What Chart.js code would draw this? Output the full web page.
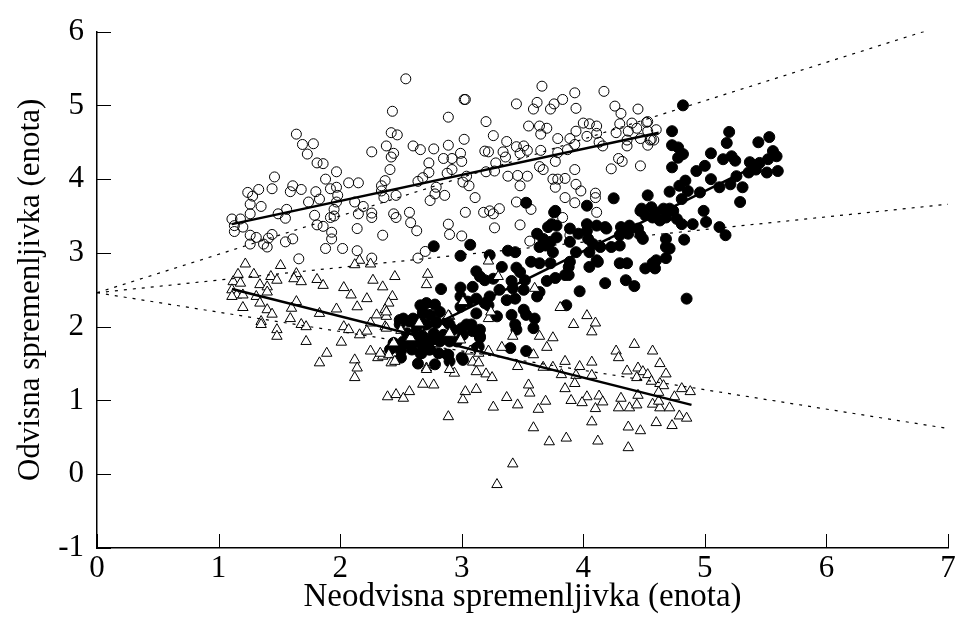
<!DOCTYPE html>
<html>
<head>
<meta charset="utf-8">
<script src="https://cdn.jsdelivr.net/npm/chart.js@4.4.1/dist/chart.umd.min.js"></script>
<style>
  html, body { margin: 0; padding: 0; background: #fff; }
  #wrap { width: 959px; height: 618px; }
</style>
</head>
<body>
<div id="wrap"><canvas id="chart"></canvas></div>
<script>
// open circles (group 1)
const openPts = [
  [2.54,5.36],[2.43,4.92],[2.89,4.84],[1.64,4.61],[2.42,4.63],[2.47,4.60],[1.69,4.47],[1.78,4.48],[1.73,4.34],[2.38,4.45],
  [2.44,4.35],[2.42,4.30],[2.26,4.37],[2.60,4.45],[2.66,4.40],[2.77,4.41],[2.85,4.28],[2.73,4.22],[1.81,4.22],[1.86,4.21],
  [2.41,4.13],[1.97,4.10],[1.46,4.03],[1.88,4.00],[2.73,4.09],[2.68,4.02],[2.64,3.97],[2.37,3.98],[2.07,3.95],[2.15,3.95],
  [1.61,3.91],[1.44,3.87],[1.33,3.86],[1.24,3.82],[1.28,3.77],[1.59,3.83],[1.68,3.86],[1.80,3.83],[1.92,3.87],[1.97,3.89],
  [2.34,3.91],[2.34,3.84],[2.36,3.75],[2.46,3.78],[2.79,3.89],[2.78,3.80],[2.86,3.78],[2.74,3.71],[1.98,3.78],[1.97,3.69],
  [1.83,3.73],[1.74,3.69],[2.12,3.69],[2.19,3.63],[1.26,3.66],[1.35,3.63],[1.56,3.59],[1.49,3.53],[1.55,3.47],[1.95,3.59],
  [1.95,3.50],[1.79,3.51],[1.92,3.48],[2.15,3.53],[2.26,3.54],[2.26,3.48],[2.44,3.53],[2.46,3.48],[2.57,3.55],[2.58,3.41],
  [2.63,3.30],[2.89,3.39],[2.90,3.25],[1.26,3.53],[1.11,3.46],[1.18,3.46],[1.13,3.37],[1.20,3.35],[1.13,3.29],[1.26,3.24],
  [1.31,3.21],[1.44,3.25],[1.41,3.20],[1.26,3.12],[1.37,3.12],[1.40,3.08],[1.55,3.15],[1.61,3.19],[1.81,3.38],[1.86,3.36],
  [1.93,3.28],[1.93,3.19],[2.14,3.33],[2.35,3.24],[1.88,3.06],[2.02,3.06],[1.66,2.92],[2.14,3.03],[2.26,2.93],[2.64,2.93],
  [2.70,3.02],[3.66,5.26],[3.02,5.08],[3.03,5.08],[3.93,5.17],[4.17,5.19],[3.45,5.02],[3.62,5.04],[3.59,4.95],[3.73,4.95],
  [3.76,5.02],[3.83,5.08],[3.94,4.96],[4.26,4.99],[4.31,4.89],[4.45,4.95],[3.20,4.78],[3.55,4.72],[3.64,4.72],[3.70,4.69],
  [3.65,4.61],[4.00,4.76],[4.05,4.75],[4.11,4.72],[3.94,4.65],[4.11,4.62],[4.03,4.58],[4.27,4.63],[4.30,4.75],[4.40,4.76],
  [4.44,4.69],[4.52,4.77],[4.53,4.65],[4.60,4.67],[4.37,4.65],[4.36,4.53],[4.47,4.55],[4.55,4.53],[4.58,4.53],[4.53,4.46],
  [3.26,4.59],[3.37,4.51],[3.45,4.44],[3.51,4.45],[3.54,4.39],[3.34,4.37],[3.36,4.30],[3.19,4.38],[3.22,4.37],[3.48,4.35],
  [3.65,4.39],[3.79,4.55],[3.89,4.55],[3.87,4.40],[3.93,4.47],[4.13,4.50],[4.16,4.45],[3.79,4.36],[2.89,4.46],[3.02,4.54],
  [2.99,4.35],[2.92,4.28],[3.00,4.24],[2.92,4.13],[2.88,4.08],[3.04,4.04],[3.01,3.96],[3.06,3.91],[3.28,4.22],[3.20,4.10],
  [3.27,4.11],[3.38,4.04],[3.46,4.05],[3.54,4.04],[3.48,3.91],[3.64,4.17],[3.67,4.13],[3.77,4.24],[3.75,4.00],[3.79,4.00],
  [3.77,3.89],[3.85,4.01],[3.93,4.13],[3.94,3.93],[3.98,3.84],[4.10,3.81],[4.10,3.75],[4.23,4.14],[4.29,4.28],[4.32,4.24],
  [4.47,4.18],[3.11,3.75],[3.45,3.69],[3.57,3.59],[3.85,3.75],[3.93,3.68],[3.18,3.55],[3.23,3.57],[3.26,3.53],[3.31,3.60],
  [3.03,3.55],[3.83,3.48],[4.11,3.55],[3.00,3.23],[3.27,3.34],[3.48,3.38],[3.56,3.16],[4.53,4.78],[4.36,4.45],[4.56,4.54],
  [3.89,3.24]
];

// filled circles (group 2)
const filledPts = [
  [3.53,3.68],[3.76,3.55],[3.74,3.39],[3.78,3.37],[3.62,3.26],[3.67,3.19],[3.78,3.21],[3.64,3.08],[3.69,3.10],[3.75,3.01],
  [2.77,3.09],[3.07,3.11],[2.99,2.96],[3.23,2.97],[3.38,3.03],[3.44,3.01],[3.57,2.88],[3.64,2.86],[3.73,2.86],[3.33,2.81],
  [3.45,2.80],[3.48,2.74],[3.12,2.75],[3.15,2.68],[3.26,2.65],[3.41,2.62],[3.52,2.63],[3.70,2.62],[3.77,2.66],[3.85,2.70],
  [2.83,2.51],[2.99,2.53],[3.09,2.54],[3.31,2.50],[3.42,2.52],[3.51,2.50],[3.64,2.47],[3.62,2.41],[2.99,2.41],[3.12,2.38],
  [3.23,2.41],[3.37,2.36],[3.44,2.38],[2.71,2.32],[2.78,2.30],[2.99,2.27],[3.05,2.34],[3.19,2.32],[3.86,2.29],[3.12,2.18],
  [3.29,2.14],[3.41,2.16],[3.51,2.23],[3.53,2.16],[3.60,2.11],[3.44,2.03],[3.45,1.96],[3.59,1.98],[2.66,2.29],[2.68,2.20],
  [2.49,2.09],[2.60,2.11],[2.79,2.07],[2.90,2.03],[3.00,1.98],[3.08,2.03],[3.15,1.87],[3.14,1.73],[3.40,1.71],[3.53,1.67],
  [2.44,1.76],[2.52,1.76],[2.60,1.82],[2.68,1.80],[2.77,1.87],[2.85,1.89],[2.90,1.80],[3.01,1.89],[2.66,1.64],[2.74,1.69],
  [2.88,1.62],[2.90,1.53],[3.00,1.58],[2.50,1.58],[2.64,1.50],[2.78,1.49],[2.66,2.11],[2.74,2.16],[2.82,2.20],[2.52,2.11],
  [2.57,2.07],[2.49,2.03],[2.63,2.00],[2.71,2.03],[2.79,2.05],[2.88,2.07],[2.93,1.96],[2.55,1.91],[2.60,1.89],[2.68,1.87],
  [2.77,1.91],[2.44,1.78],[2.52,1.80],[2.60,1.78],[2.67,1.76],[2.74,1.80],[2.82,1.80],[2.41,1.69],[2.50,1.67],[2.59,1.69],
  [2.67,1.64],[2.73,1.69],[2.81,1.64],[2.89,1.62],[3.01,1.55],[2.96,1.80],[3.04,2.03],[3.09,1.94],[3.15,1.85],[3.12,1.71],
  [3.15,1.96],[3.22,2.29],[3.19,2.63],[4.82,5.00],[4.73,4.65],[5.20,4.64],[5.18,4.49],[5.44,4.50],[5.53,4.57],[4.73,4.46],
  [4.78,4.43],[4.82,4.34],[4.78,4.29],[4.73,4.16],[5.05,4.35],[5.15,4.27],[5.22,4.31],[5.25,4.25],[5.37,4.23],[5.45,4.22],
  [5.52,4.27],[5.56,4.38],[5.59,4.31],[5.60,4.11],[5.51,4.09],[5.42,4.13],[5.36,4.09],[5.26,4.04],[5.21,3.93],[5.31,3.89],
  [5.12,3.89],[5.05,4.00],[5.00,4.18],[4.93,4.11],[4.84,3.98],[4.79,3.91],[4.86,3.84],[4.96,3.82],[4.81,3.73],[4.71,3.83],
  [5.29,3.69],[4.25,3.74],[4.03,3.64],[4.53,3.78],[4.48,3.60],[4.56,3.62],[4.60,3.55],[4.66,3.60],[4.68,3.48],[4.63,3.44],
  [4.57,3.48],[4.51,3.51],[4.74,3.57],[4.77,3.46],[4.81,3.39],[4.99,3.57],[4.90,3.39],[5.01,3.42],[5.12,3.35],[5.17,3.24],
  [4.83,3.18],[4.68,3.19],[4.68,3.08],[4.68,2.93],[4.60,2.90],[4.59,2.79],[4.51,2.79],[4.49,3.19],[4.45,3.33],[4.38,3.37],
  [4.31,3.35],[4.37,3.26],[4.30,3.24],[4.18,3.35],[4.11,3.37],[4.03,3.39],[4.03,3.30],[3.96,3.26],[3.89,3.33],[3.77,3.57],
  [3.89,3.15],[4.23,3.08],[4.30,3.10],[4.14,3.08],[4.05,3.01],[4.12,2.88],[4.05,2.81],[3.88,2.81],[3.88,2.70],[4.18,2.59],
  [4.30,2.86],[4.36,2.86],[4.35,2.63],[4.42,2.55],[3.97,2.48],[4.85,2.38],[3.71,3.35],[4.19,3.33],[4.47,3.57],[4.71,3.60],
  [4.47,3.24],[4.71,3.06],[4.57,2.86],[4.11,2.90],[3.73,3.15],[4.04,3.19],[3.94,3.01],[4.08,3.12],[3.89,2.88]
];

// open triangles (group 3)
const trianglePts = [
  [1.22,2.85],[1.51,2.83],[2.16,2.90],[2.12,2.84],[2.25,2.85],[1.16,2.71],[1.29,2.71],[1.43,2.68],[1.64,2.72],[1.48,2.63],
  [1.62,2.65],[1.68,2.61],[1.81,2.64],[1.86,2.56],[1.12,2.61],[1.18,2.59],[1.34,2.57],[1.40,2.54],[1.11,2.50],[1.15,2.43],
  [1.11,2.41],[1.20,2.43],[1.31,2.41],[1.40,2.47],[1.34,2.32],[1.20,2.26],[1.40,2.23],[1.44,2.17],[1.35,2.07],[1.35,2.03],
  [1.48,1.96],[1.48,1.87],[1.60,2.25],[1.59,2.11],[1.64,2.34],[1.68,2.03],[1.72,2.00],[1.72,1.80],[1.83,2.18],[1.97,2.24],
  [2.03,2.53],[2.09,2.43],[2.14,2.27],[2.22,2.38],[2.27,2.63],[2.35,2.54],[2.45,2.68],[2.43,2.41],[2.40,2.32],[2.37,2.23],
  [2.30,2.16],[2.38,2.14],[2.25,2.05],[2.37,2.00],[2.03,2.00],[2.07,1.96],[2.16,1.89],[2.22,1.94],[2.01,1.79],[1.89,1.64],
  [1.83,1.51],[2.25,1.67],[2.31,1.58],[2.35,1.60],[2.40,1.62],[2.44,1.78],[2.42,1.51],[2.12,1.55],[2.14,1.44],[2.12,1.31],
  [2.39,1.05],[2.46,1.08],[2.52,1.03],[2.57,1.12],[2.72,2.71],[2.71,2.57],[2.68,1.22],[2.77,1.21],[2.71,1.44],[2.38,2.20],
  [2.38,1.98],[3.22,2.89],[3.30,2.68],[3.60,2.52],[3.81,2.26],[3.22,2.11],[3.24,2.20],[2.90,2.14],[2.99,1.82],[3.42,1.87],
  [3.64,1.87],[3.75,1.85],[3.70,1.72],[3.59,1.62],[3.33,1.72],[3.22,1.67],[3.14,1.64],[3.07,1.67],[2.71,1.42],[2.94,1.37],
  [3.12,1.39],[3.20,1.36],[3.25,1.31],[3.46,1.46],[3.85,1.53],[4.03,2.15],[3.92,2.03],[4.10,2.05],[4.07,1.93],[2.89,2.15],
  [2.90,1.91],[4.42,1.76],[4.57,1.67],[4.27,1.67],[4.29,1.58],[4.63,1.50],[4.07,1.52],[3.09,1.52],[3.67,1.45],[3.75,1.45],
  [3.97,1.46],[3.82,1.35],[3.94,1.34],[4.07,1.34],[4.36,1.40],[4.45,1.44],[4.49,1.39],[4.53,1.35],[4.68,1.36],[4.44,1.31],
  [4.56,1.26],[4.63,1.23],[4.66,1.20],[4.81,1.16],[4.88,1.12],[4.75,1.05],[4.62,1.11],[4.45,1.07],[4.31,1.03],[3.85,1.16],
  [3.93,1.23],[3.90,1.00],[4.03,1.05],[4.13,1.06],[4.16,0.98],[3.99,0.97],[4.10,0.89],[4.29,0.90],[4.38,0.90],[4.44,0.94],
  [4.57,0.95],[4.63,0.90],[4.71,0.90],[4.79,0.79],[4.85,0.76],[4.60,0.70],[4.73,0.66],[4.37,0.64],[4.47,0.59],[4.37,0.36],
  [4.12,0.45],[3.86,0.49],[3.72,0.44],[4.07,0.71],[3.59,0.63],[3.63,0.88],[3.69,0.99],[3.56,1.10],[3.46,0.94],[3.37,1.04],
  [3.26,0.91],[3.12,1.15],[3.03,1.12],[3.01,1.01],[2.89,0.78],[3.42,0.14],[3.29,-0.14],[3.55,1.21],[4.62,0.99],[2.33,1.64],
  [2.45,1.53],[3.01,2.34],[3.14,1.51],[2.90,1.42],[2.50,1.95],[2.58,1.85],[2.65,2.05]
];

// fitted lines (solid) and model lines (dotted), as [x, y] end points
const fitOpen = [[1.11,3.39],[4.62,4.63]];
const fitFilled = [[2.62,1.90],[5.42,4.18]];
const fitTriangle = [[1.11,2.51],[4.89,0.94]];
const modelUpper = [[0,2.46],[6.80,6.00]];
const modelMiddle = [[0,2.46],[7,3.66]];
const modelLower = [[0,2.46],[7,0.62]];

const xTicks = [0,1,2,3,4,5,6,7];
const yTicks = [-1,0,1,2,3,4,5,6];

const toXY = pts => pts.map(p => ({x: p[0], y: p[1]}));
const serif = "'Liberation Serif', 'DejaVu Serif', serif";

function lineSet(pts, width, dash) {
  return {
    data: toXY(pts),
    showLine: true,
    borderColor: "#000",
    borderWidth: width,
    borderDash: dash,
    pointRadius: 0,
    fill: false
  };
}

// ticks point into the plot area
const innerTicks = {
  id: "innerTicks",
  afterDatasetsDraw(chart) {
    const {ctx, chartArea, scales} = chart;
    ctx.save();
    ctx.strokeStyle = "#000";
    ctx.lineWidth = 1;
    xTicks.forEach(v => {
      const px = Math.round(scales.x.getPixelForValue(v)) + 0.5;
      ctx.beginPath();
      ctx.moveTo(px, chartArea.bottom);
      ctx.lineTo(px, chartArea.bottom - 14);
      ctx.stroke();
    });
    yTicks.forEach(v => {
      const py = Math.round(scales.y.getPixelForValue(v)) + 0.5;
      ctx.beginPath();
      ctx.moveTo(chartArea.left, py);
      ctx.lineTo(chartArea.left + 14, py);
      ctx.stroke();
    });
    ctx.restore();
  }
};

new Chart(document.getElementById("chart"), {
  type: "scatter",
  data: {
    datasets: [
      lineSet(fitOpen, 2.5, []),
      lineSet(fitFilled, 2.5, []),
      lineSet(fitTriangle, 2.5, []),
      lineSet(modelUpper, 1.2, [3, 6]),
      lineSet(modelMiddle, 1.2, [3, 6]),
      lineSet(modelLower, 1.2, [3, 6]),
      {
        data: toXY(trianglePts),
        pointStyle: "triangle",
        pointRadius: 6,
        backgroundColor: "#fff",
        borderColor: "#000",
        borderWidth: 1
      },
      {
        data: toXY(filledPts),
        pointStyle: "circle",
        pointRadius: 5.5,
        backgroundColor: "#000",
        borderColor: "#000",
        borderWidth: 1
      },
      {
        data: toXY(openPts),
        pointStyle: "circle",
        pointRadius: 5,
        backgroundColor: "rgba(0,0,0,0)",
        borderColor: "#000",
        borderWidth: 1
      }
    ]
  },
  options: {
    responsive: true,
    maintainAspectRatio: false,
    animation: false,
    events: [],
    layout: { padding: { top: 28, right: 11, left: 0, bottom: 0 } },
    plugins: {
      legend: { display: false },
      tooltip: { enabled: false }
    },
    scales: {
      x: {
        type: "linear",
        min: 0,
        max: 7,
        afterBuildTicks: s => { s.ticks = xTicks.map(v => ({value: v})); },
        afterFit: s => { s.height = 70; },
        grid: { display: true, drawOnChartArea: false, drawTicks: false },
        border: { color: "#000", width: 1.5 },
        ticks: { color: "#000", padding: 2, font: { family: serif, size: 31 } },
        title: {
          display: true,
          text: "Neodvisna spremenljivka (enota)",
          color: "#000",
          padding: { top: 0, bottom: 1 },
          font: { family: serif, size: 33 }
        }
      },
      y: {
        type: "linear",
        min: -1,
        max: 6,
        afterBuildTicks: s => { s.ticks = yTicks.map(v => ({value: v})); },
        afterFit: s => { s.width = 97; },
        grid: { display: true, drawOnChartArea: false, drawTicks: false },
        border: { color: "#000", width: 1.5 },
        ticks: { color: "#000", padding: 13, font: { family: serif, size: 31 } },
        title: {
          display: true,
          text: "Odvisna spremenljivka (enota)",
          color: "#000",
          padding: { top: 12, bottom: 0 },
          font: { family: serif, size: 31 }
        }
      }
    }
  },
  plugins: [innerTicks]
});
</script>
</body>
</html>
